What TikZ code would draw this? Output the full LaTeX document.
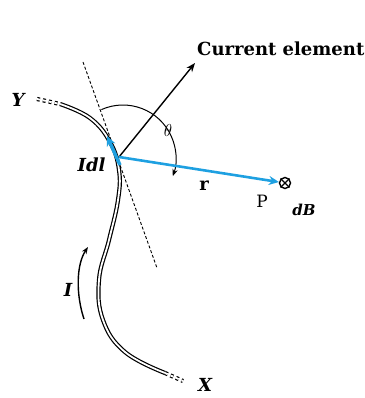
\documentclass[tikz,border=0pt]{standalone}
\usepackage{fontspec}
\setmainfont{DejaVu Serif}
\usetikzlibrary{arrows.meta}
\definecolor{wireblue}{RGB}{30,160,225}
\begin{document}
\begin{tikzpicture}[x=1pt, y=-1pt,
    wire/.style={double, double distance=1.8pt, line width=1.2pt},
    lbl/.style={font=\fontsize{18}{21}\selectfont\bfseries\itshape},
    vec/.style={wireblue, line width=2.6pt, -{Stealth[length=10pt, width=9pt]}}]
    \useasboundingbox (0,0) rectangle (364,398);

    % Wire from X to Y
    \draw[wire, dashed] (37,99) -- (60,104);
    \draw[wire] plot[smooth, tension=0.7] coordinates
        {(60,104) (90,118) (110,142) (119,170) (118,200) (109,240) (99,280) (103,320) (125,352) (165,373)};
    \draw[wire, dashed] (165,373) -- (183,381);
    \node[lbl] (Y) at (18,100) {Y};
    \node[lbl] (X) at (205,385) {X};

    % Tangent at the element
    \draw[densely dashed, line width=0.9pt] (83,62) -- (157,268);

    % Current element direction
    \coordinate (O) at (119,157);
    \node[font=\fontsize{18}{21}\selectfont\bfseries, anchor=base west, inner sep=0pt]
        (cur) at (197,56) {Current element};
    \coordinate (ce) at (195,63);
    \draw[line width=1.4pt, -{Stealth[length=9pt, width=7pt]}] (O) -- (ce);

    % Angle between element and r
    \draw[line width=1pt, -{Stealth[length=7pt]}] (101.4,109.6) arc[start angle=-114, end angle=20, radius=53];
    \node[font=\fontsize{16}{19}\selectfont] (th) at (168,130) {$\theta$};

    % Idl and r
    \coordinate (Ib) at (120,165);
    \coordinate (It) at (107,136);
    \draw[vec, line width=3.4pt] (Ib) -- (It);
    \node[lbl, anchor=east] (Idl) at (109,165) {Idl};
    \node[circle, draw, line width=1.4pt, minimum size=11pt, inner sep=0pt] (P) at (285,183) {};
    \draw[line width=1.2pt] (P.north west) -- (P.south east) (P.north east) -- (P.south west);
    \draw[vec] (O) -- (P);
    \node[font=\fontsize{18}{21}\selectfont\bfseries] (r) at (204,186) {r};
    \node[font=\fontsize{17}{20}\selectfont] (Plbl) at (262,201) {P};
    \node[lbl, font=\fontsize{15}{18}\selectfont\bfseries\itshape] (dB) at (304,210) {dB};

    % Current I
    \coordinate (Ia) at (84,319);
    \coordinate (Iz) at (88,247);
    \draw[line width=1.4pt, -{Stealth[length=7pt]}] (Ia) .. controls (76,295) and (76,265) .. (Iz);
    \node[lbl] (I) at (68,290) {I};
\end{tikzpicture}
\end{document}
